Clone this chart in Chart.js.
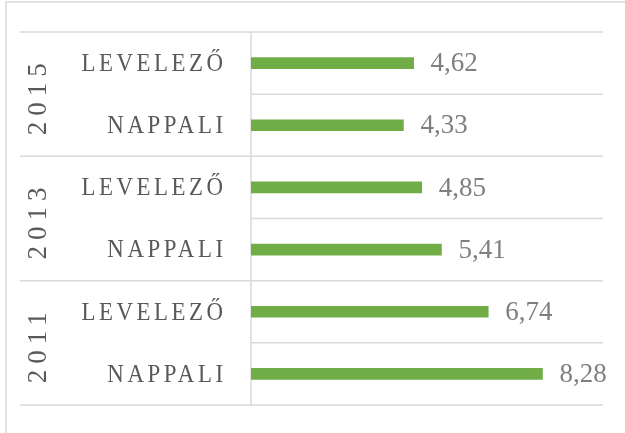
<!DOCTYPE html>
<html>
<head>
<meta charset="utf-8">
<script src="https://cdn.jsdelivr.net/npm/chart.js@4"></script>
<style>
  html, body { margin: 0; padding: 0; background: #fff; }
  #wrap { width: 625px; height: 433px; }
</style>
</head>
<body>
<div id="wrap"><canvas id="chart" width="625" height="433"></canvas></div>
<script>
// data
const years = ["2015", "2013", "2011"];
const types = ["LEVELEZŐ", "NAPPALI"];
const levelezo = [4.62, 4.85, 6.74];
const nappali = [4.33, 5.41, 8.28];

// one row per year/type pair, top to bottom
let labels = [];
let values = [];
years.forEach((y, i) => {
    labels.push(types[0]);
    values.push(levelezo[i]);
    labels.push(types[1]);
    values.push(nappali[i]);
});

const gridColor = "#d9d9d9";
const serif = "'Liberation Serif', 'DejaVu Serif', serif";

// draw text with letter spacing and a horizontal squeeze
function spacedText(ctx, text, x, y, spacing, align, sx) {
    sx = sx || 1;
    ctx.save();
    ctx.letterSpacing = spacing + "px";
    let w = (ctx.measureText(text).width - spacing) * sx;
    ctx.textAlign = "left";
    let x0 = x;
    if (align === "right") x0 = x - w;
    else if (align === "center") x0 = x - w / 2;
    ctx.translate(x0, y);
    ctx.scale(sx, 1);
    ctx.fillText(text, 0, 0);
    ctx.restore();
}

const framePlugin = {
    id: "frame",
    beforeDatasetsDraw(chart) {
        const ctx = chart.ctx;
        const area = chart.chartArea;
        const ys = chart.scales.y;
        ctx.save();
        // outer border of the chart box
        ctx.strokeStyle = gridColor;
        ctx.lineWidth = 1.5;
        ctx.beginPath();
        ctx.moveTo(6, 440);
        ctx.lineTo(6, 2);
        ctx.lineTo(630, 2);
        ctx.stroke();

        // row separators
        for (let i = 0; i <= labels.length; i++) {
            let y;
            if (i === 0) y = area.top;
            else if (i === labels.length) y = area.bottom;
            else y = (ys.getPixelForValue(i - 1) + ys.getPixelForValue(i)) / 2;
            let x0 = i % 2 === 0 ? 20 : area.left;
            ctx.beginPath();
            ctx.moveTo(x0, y);
            ctx.lineTo(area.right, y);
            ctx.stroke();
        }
        // category axis line
        ctx.beginPath();
        ctx.moveTo(area.left, area.top);
        ctx.lineTo(area.left, area.bottom);
        ctx.stroke();
        ctx.restore();
    },
    afterDatasetsDraw(chart) {
        const ctx = chart.ctx;
        const ys = chart.scales.y;
        const meta = chart.getDatasetMeta(0);
        ctx.save();
        ctx.textBaseline = "middle";

        // value labels
        ctx.fillStyle = "#7f7f7f";
        ctx.font = "27px " + serif;
        meta.data.forEach((bar, i) => {
            let txt = values[i].toFixed(2).replace(".", ",");
            ctx.textAlign = "left";
            ctx.fillText(txt, bar.x + 17, bar.y + 1);
        });

        // type labels
        ctx.fillStyle = "#595959";
        ctx.font = "26px " + serif;
        labels.forEach((lab, i) => {
            spacedText(ctx, lab, 223, ys.getPixelForValue(i) + 1, 4, "right", 0.88);
        });

        // year labels, rotated
        years.forEach((yr, g) => {
            let yc = (ys.getPixelForValue(g * 2) + ys.getPixelForValue(g * 2 + 1)) / 2;
            ctx.save();
            ctx.translate(39, yc + 5);
            ctx.rotate(-Math.PI / 2);
            ctx.font = "27px " + serif;
            spacedText(ctx, yr, 0, 0, 6, "center", 1);
            ctx.restore();
        });
        ctx.restore();
    }
};

new Chart(document.getElementById("chart"), {
    type: "bar",
    data: {
        labels: labels,
        datasets: [
            {
                data: values,
                backgroundColor: "#70ad47",
                borderWidth: 0,
                barThickness: 11,
            },
        ],
    },
    options: {
        indexAxis: "y",
        responsive: false,
        animation: false,
        layout: {
            padding: { left: 251, right: 22, top: 32, bottom: 28 },
        },
        plugins: {
            legend: { display: false },
            tooltip: { enabled: false },
        },
        scales: {
            x: { display: false, min: 0, max: 10 },
            y: { display: false },
        },
    },
    plugins: [framePlugin],
});
</script>
</body>
</html>
